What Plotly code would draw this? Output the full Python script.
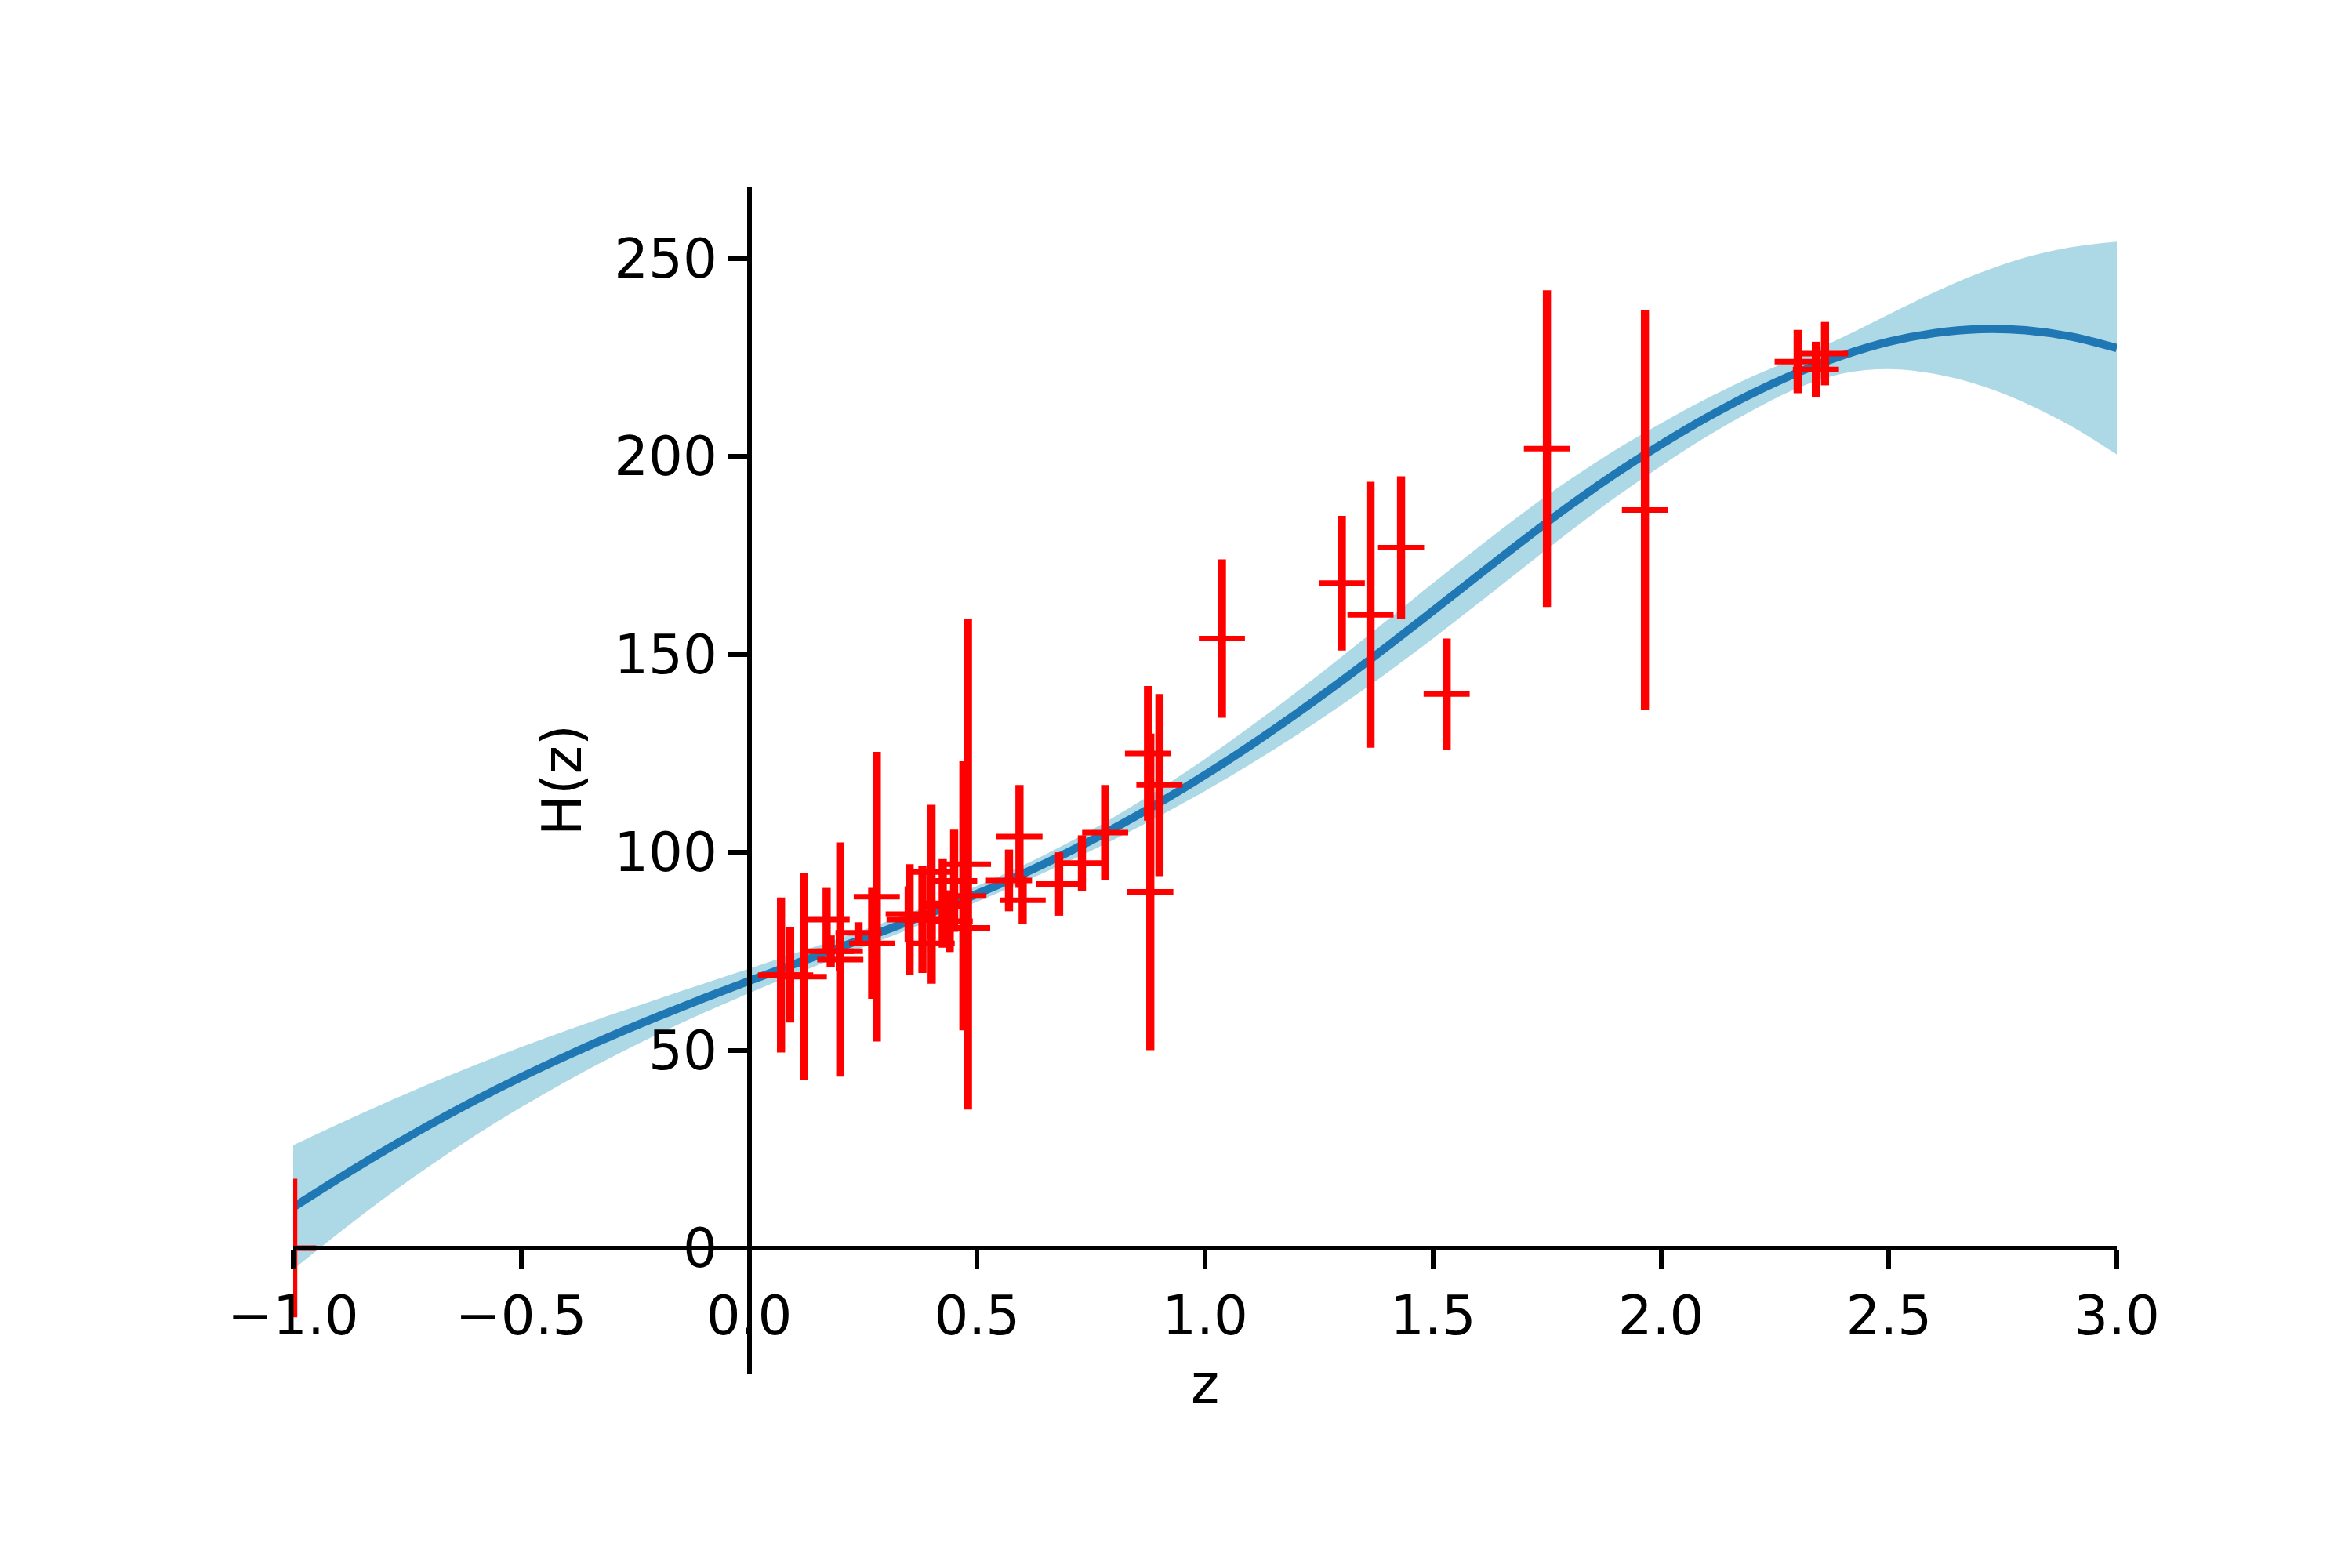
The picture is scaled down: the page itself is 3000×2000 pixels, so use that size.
import plotly.graph_objects as go

# ---------------- data ----------------
z_obs = [-1.0, 0.07, 0.09, 0.12, 0.17, 0.179, 0.199, 0.2, 0.24, 0.27, 0.28, 0.35,
         0.352, 0.3802, 0.4, 0.4004, 0.4247, 0.43, 0.44, 0.4497, 0.47, 0.4783,
         0.48, 0.57, 0.593, 0.6, 0.68, 0.73, 0.781, 0.875, 0.88, 0.9, 1.037,
         1.3, 1.363, 1.43, 1.53, 1.75, 1.965, 2.3, 2.34, 2.36]
H_obs = [0, 69, 69, 68.6, 83, 75, 75, 72.9, 79.69, 77, 88.8, 84.4,
         83, 83, 95, 77, 87.1, 86.45, 82.6, 92.8, 89, 80.9,
         97, 92.9, 104, 87.9, 92, 97.3, 105, 125, 90, 117, 154,
         168, 160, 177, 140, 202, 186.5, 224, 222, 226]
H_err = [17.5, 19.6, 12, 26.2, 8, 4, 5, 29.6, 2.65, 14, 36.6, 7.0,
         14, 13.5, 17, 10.2, 11.2, 3.68, 7.8, 12.9, 34, 9,
         62, 7.8, 13, 6.1, 8, 7.0, 12, 17, 40, 23, 20,
         17, 33.6, 18, 14, 40, 50.4, 8, 7, 8]

# reconstructed curve and its band
z_rec = [-1.0, -0.9, -0.8, -0.7, -0.6, -0.5, -0.4, -0.3, -0.2, -0.1,
         0.0, 0.1, 0.2, 0.3, 0.4, 0.5, 0.6, 0.7, 0.8, 0.9,
         1.0, 1.1, 1.2, 1.3, 1.4, 1.5, 1.6, 1.7, 1.8, 1.9,
         2.0, 2.1, 2.2, 2.3, 2.4, 2.5, 2.6, 2.7, 2.8, 2.9, 3.0]
H_mean = [10.3, 17.6, 24.6, 31.2, 37.4, 43.2, 48.6, 53.7, 58.5, 63.1,
          67.5, 71.8, 76.05, 80.35, 84.8, 89.5, 94.55, 100.05, 106.05, 112.55,
          119.55, 127.05, 135.0, 143.35, 152.05, 161.0, 170.05, 179.0, 187.6, 195.65,
          203.0, 209.8, 215.9, 221.2, 225.6, 229.0, 231.2, 232.2, 231.9, 230.3, 227.4]
H_upper = [26.0, 31.4, 36.6, 41.6, 46.3, 50.8, 55.0, 59.05, 62.95, 66.8,
           70.6, 74.45, 78.35, 82.45, 86.8, 91.5, 96.65, 102.45, 108.9, 115.95,
           123.6, 131.8, 140.45, 149.45, 158.7, 168.0, 177.15, 185.95, 194.15, 201.65,
           208.4, 214.6, 220.2, 225.1, 230.2, 235.9, 241.5, 246.4, 250.3, 252.9, 254.3]
H_lower = [-5.4, 3.8, 12.6, 20.8, 28.5, 35.6, 42.2, 48.35, 54.05, 59.4,
           64.4, 69.15, 73.75, 78.25, 82.8, 87.5, 92.45, 97.65, 103.2, 109.15,
           115.5, 122.3, 129.55, 137.25, 145.4, 154.0, 162.95, 172.05, 181.05, 189.65,
           197.6, 205.0, 211.6, 217.3, 221.0, 222.1, 220.9, 218.0, 213.5, 207.7, 200.5]

x_ticks = [-1.0, -0.5, 0.0, 0.5, 1.0, 1.5, 2.0, 2.5, 3.0]
x_ticktext = ["\u22121.0", "\u22120.5", "0.0", "0.5", "1.0", "1.5", "2.0", "2.5", "3.0"]
y_ticks = [0, 50, 100, 150, 200, 250]
y_ticktext = ["0", "50", "100", "150", "200", "250"]

X_RANGE = [-1.0, 3.0]
Y_RANGE = [-31.7, 268.2]

# ---------------- figure ----------------
FONT = "DejaVu Sans"
FS = 69
LW_AX = 5.6

fig = go.Figure()

fig.add_trace(go.Scatter(x=z_rec, y=H_lower, mode="lines", line=dict(width=0, shape="spline", smoothing=1.0),
                         hoverinfo="skip", showlegend=False))
fig.add_trace(go.Scatter(x=z_rec, y=H_upper, mode="lines", line=dict(width=0, shape="spline", smoothing=1.0),
                         fill="tonexty", fillcolor="#add8e6", hoverinfo="skip", showlegend=False))
fig.add_trace(go.Scatter(x=z_rec, y=H_mean, mode="lines",
                         line=dict(color="#1f77b4", width=10.4, shape="spline", smoothing=1.0),
                         showlegend=False))
fig.add_trace(go.Scatter(
    x=z_obs, y=H_obs, mode="markers",
    marker=dict(symbol="line-ew", size=42, color="#ff0000", line=dict(color="#ff0000", width=7)),
    error_y=dict(type="data", array=H_err, visible=True, color="#ff0000", thickness=10.4, width=0),
    showlegend=False))

x_pos = (0 - Y_RANGE[0]) / (Y_RANGE[1] - Y_RANGE[0])
y_pos = (0 - X_RANGE[0]) / (X_RANGE[1] - X_RANGE[0])

fig.update_layout(
    width=3000, height=2000,
    margin=dict(l=374, r=300, t=238, b=248, pad=0),
    paper_bgcolor="white", plot_bgcolor="white",
    font=dict(family=FONT, size=FS, color="black"),
    xaxis=dict(range=X_RANGE, tickmode="array", tickvals=x_ticks, ticktext=x_ticktext,
               showgrid=False, zeroline=False, showline=True, linecolor="black", linewidth=LW_AX,
               ticks="outside", ticklen=24, tickwidth=LW_AX, tickcolor="black",
               anchor="free", position=x_pos, tickfont=dict(family=FONT, size=FS, color="black")),
    yaxis=dict(range=Y_RANGE, tickmode="array", tickvals=y_ticks, ticktext=y_ticktext,
               showgrid=False, zeroline=False, showline=True, linecolor="black", linewidth=LW_AX,
               ticks="outside", ticklen=24, tickwidth=LW_AX, tickcolor="black",
               anchor="free", position=y_pos, tickfont=dict(family=FONT, size=FS, color="black")),
    annotations=[
        dict(text="H(z)", xref="paper", yref="paper", x=(717 - 374) / 2326, y=0.5,
             xanchor="center", yanchor="middle", textangle=-90, showarrow=False,
             font=dict(family=FONT, size=FS, color="black")),
        dict(text="z", xref="paper", yref="paper", x=0.5, y=(1752 - 1765) / 1514,
             xanchor="center", yanchor="middle", showarrow=False,
             font=dict(family=FONT, size=FS, color="black")),
    ],
)

fig.write_html("out.html")
